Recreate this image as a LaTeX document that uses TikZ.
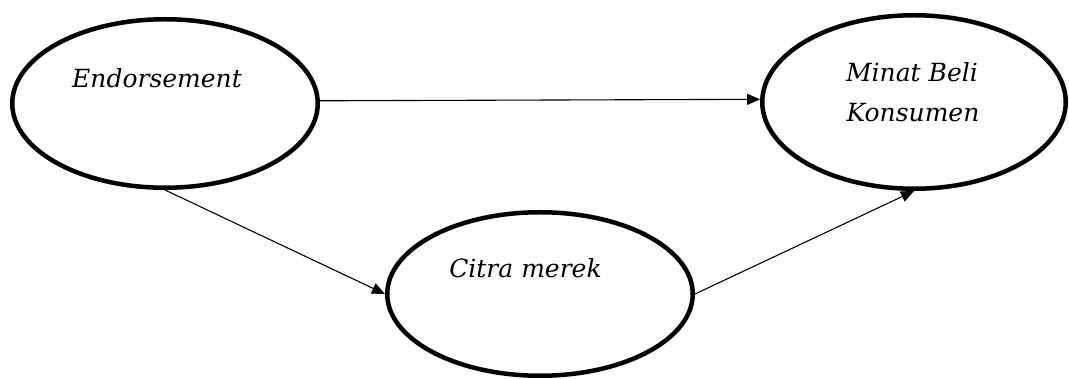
\documentclass[tikz,border=0pt]{standalone}
\usepackage{fontspec}
\newfontfamily\lblfont{DejaVu Serif}
\usetikzlibrary{shapes.geometric,arrows.meta}
\begin{document}
\begin{tikzpicture}[x=1pt,y=-1pt,
  oval/.style={draw=black,line width=4.5pt,ellipse,inner sep=0pt,fill=white},
  lbl/.style={font=\lblfont\fontsize{25}{40}\selectfont\itshape,inner sep=0pt,anchor=base},
  arr/.style={line width=1.1pt,-{Triangle[length=13pt,width=11pt]}}]
\useasboundingbox[fill=white] (0,0) rectangle (1069,379);
\node[oval,minimum width=305.5pt,minimum height=168.5pt] (e) at (165,103.5) {};
\node[oval,minimum width=303.5pt,minimum height=173.5pt] (m) at (914,102) {};
\node[oval,minimum width=305.5pt,minimum height=163.5pt] (c) at (540,294) {};
\node[lbl] (te) at (157,88) {Endorsement};
\node[lbl] (tm1) at (912,82) {Minat Beli};
\node[lbl] (tm2) at (913,122) {Konsumen};
\node[lbl] (tc) at (525.5,278) {Citra merek};
\draw[arr] (e.1.3) -- (m.179);
\draw[arr] (e.south) -- (c.west);
\draw[arr] (c.east) -- (m.south);
\end{tikzpicture}
\end{document}
